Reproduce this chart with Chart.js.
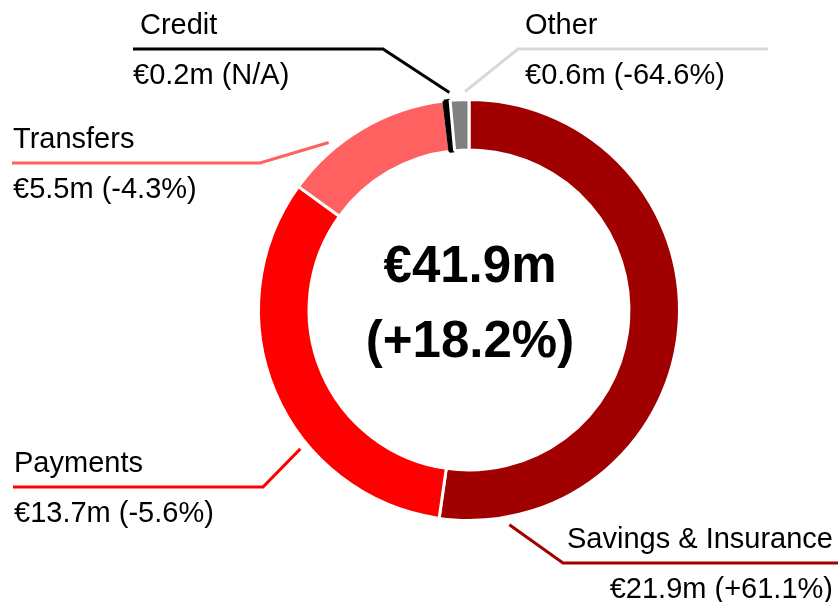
<!DOCTYPE html>
<html lang="en">
<head>
    <meta charset="UTF-8">
    <title>Revenue by Product</title>
    <script src="https://cdn.jsdelivr.net/npm/chart.js"></script>
    <style>
        body {
            margin: 0;
            background: #fff;
            font-family: "Liberation Sans", Arial, sans-serif;
        }
        .chart-container {
            width: 838px;
            height: 602px;
        }
    </style>
</head>
<body>
    <div class="chart-container">
        <canvas id="revenueChart" width="838" height="602"></canvas>
    </div>

    <script>
        // Data
        const categories = ['Savings & Insurance', 'Payments', 'Transfers', 'Credit', 'Other'];
        const values = [21.9, 13.7, 5.5, 0.2, 0.6];
        const changes = ['+61.1%', '-5.6%', '-4.3%', 'N/A', '-64.6%'];
        const totalValue = 41.9;
        const totalChange = '+18.2%';

        const sliceColors = ['#a00000', '#ff0000', '#ff6060', '#000000', '#808080'];
        const lineColors = ['#a00000', '#ff0000', '#ff6060', '#000000', '#d9d9d9'];

        // Label layout: where the text sits, and where on the slice the leader line ends
        const labelLayout = [
            { frac: 0.90, elbowX: 563, lineY: 563, endX: 838, textX: 833, align: 'right' },
            { frac: 0.36, elbowX: 263, lineY: 487, endX: 13, textX: 14, align: 'left' },
            { frac: 0.30, elbowX: 260, lineY: 163, endX: 12, textX: 13, align: 'left' },
            { frac: 1.00, elbowX: 383, lineY: 49, endX: 133, textX: 133, nameX: 140, align: 'left' },
            { frac: 0.80, elbowX: 518, lineY: 49, endX: 768, textX: 525, align: 'left' }
        ];

        function euro(v) {
            return '€' + v.toFixed(1) + 'm';
        }

        const labelPlugin = {
            id: 'leaderLabels',
            afterDraw(chart) {
                const ctx = chart.ctx;
                const meta = chart.getDatasetMeta(0);
                ctx.save();
                meta.data.forEach((arc, i) => {
                    const lay = labelLayout[i];
                    const a = arc.startAngle + lay.frac * (arc.endAngle - arc.startAngle);
                    const r = arc.outerRadius + 8;
                    const px = arc.x + r * Math.cos(a);
                    const py = arc.y + r * Math.sin(a);

                    ctx.strokeStyle = lineColors[i];
                    ctx.lineWidth = 3;
                    ctx.beginPath();
                    ctx.moveTo(px, py);
                    ctx.lineTo(lay.elbowX, lay.lineY);
                    ctx.lineTo(lay.endX, lay.lineY);
                    ctx.stroke();

                    ctx.fillStyle = '#000';
                    ctx.font = '29px "Liberation Sans", Arial, sans-serif';
                    ctx.textAlign = lay.align;
                    ctx.textBaseline = 'alphabetic';
                    ctx.fillText(categories[i], lay.nameX || lay.textX, lay.lineY - 15);
                    ctx.fillText(euro(values[i]) + ' (' + changes[i] + ')', lay.textX, lay.lineY + 35);
                });

                // centre total
                const cx = meta.data[0].x;
                const cy = meta.data[0].y;
                ctx.fillStyle = '#000';
                ctx.font = 'bold 51px "Liberation Sans", Arial, sans-serif';
                ctx.textAlign = 'center';
                ctx.fillText(euro(totalValue), cx + 1, cy - 28);
                ctx.fillText('(' + totalChange + ')', cx + 1, cy + 47);
                ctx.restore();
            }
        };

        const ctx = document.getElementById('revenueChart').getContext('2d');
        new Chart(ctx, {
            type: 'doughnut',
            data: {
                labels: categories,
                datasets: [{
                    data: values,
                    backgroundColor: sliceColors,
                    borderColor: ['#fff', '#fff', '#fff', '#000', '#fff'],
                    borderWidth: 3,
                    hoverOffset: 0
                }]
            },
            options: {
                responsive: false,
                animation: false,
                cutout: '76%',
                layout: {
                    padding: { left: 257, right: 157, top: 98, bottom: 80 }
                },
                plugins: {
                    legend: { display: false },
                    tooltip: { enabled: false }
                }
            },
            plugins: [labelPlugin]
        });
    </script>
</body>
</html>
